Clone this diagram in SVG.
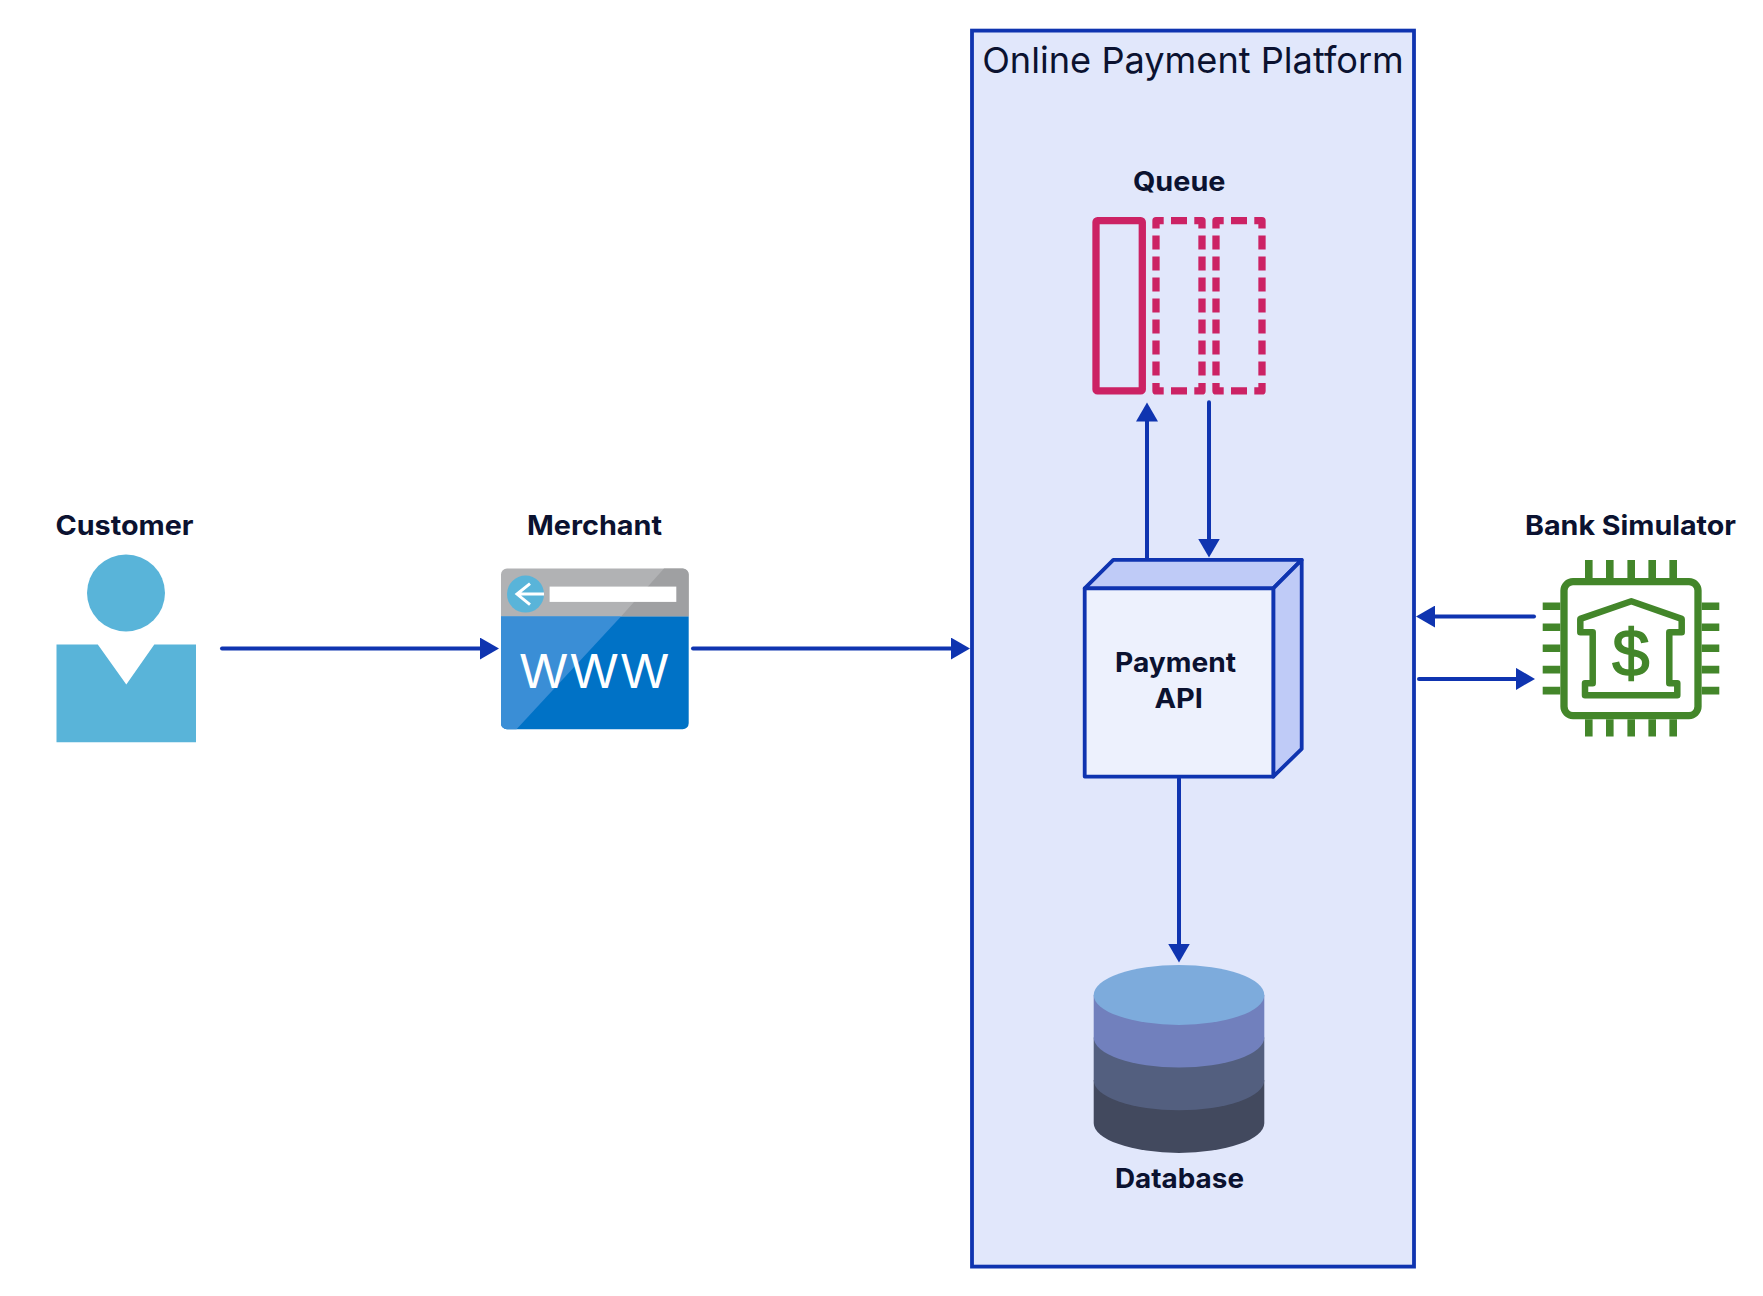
<svg xmlns="http://www.w3.org/2000/svg" width="1763" height="1296" viewBox="0 0 1763 1296">
<style>
.lbl{font-family:"Inter","Noto Sans",sans-serif;font-weight:700;font-size:27px;fill:#0b1230}
.ttl{font-family:"Inter","Noto Sans",sans-serif;font-weight:400;font-size:36px;fill:#0b1230}
.edge{fill:none;stroke:#0f34b0;stroke-width:4;stroke-linecap:round;marker-end:url(#arr)}
.pink{fill:none;stroke:#cc2264;stroke-width:7.3;stroke-linejoin:round}
.grn{fill:none;stroke:#43862a;stroke-linejoin:round}
.blu{stroke:#0f34b0;stroke-width:3.8;stroke-linejoin:round}
</style>
<defs>
<marker id="arr" markerUnits="userSpaceOnUse" markerWidth="20" markerHeight="22" refX="1" refY="11" orient="auto"><path d="M0,0L19,11L0,22Z" fill="#0f34b0"/></marker>
<path id="dash" d="M1156,228V220H1163.7M1171,220H1187M1194.3,220H1202V228M1156,235V249M1156,256V270M1156,277V291M1156,298V312M1156,319V333M1156,340V354M1156,361V375M1202,235V249M1202,256V270M1202,277V291M1202,298V312M1202,319V333M1202,340V354M1202,361V375M1156,382.3V390.3H1163.7M1171,390.3H1187M1194.3,390.3H1202V382.3"/>
</defs>
<rect width="1763" height="1296" fill="#fff"/>
<g transform="translate(0,0.6)">
<g id="platform">
<rect x="972" y="30" width="442" height="1236" fill="#e1e7fb" stroke="#0f34b0" stroke-width="3.8"/>
<text class="ttl" x="982.2" y="72.3" textLength="421.6" lengthAdjust="spacingAndGlyphs">Online Payment Platform</text>
</g>
<g id="customer">
<text class="lbl" x="55.5" y="534" textLength="138" lengthAdjust="spacingAndGlyphs">Customer</text>
<ellipse cx="126" cy="592.4" rx="39" ry="38.4" fill="#59b4d9"/>
<path d="M56.5,644H97.8L126.3,684L154.3,644H196V741.7H56.5Z" fill="#59b4d9"/>
</g>
<g id="merchant">
<text class="lbl" x="527" y="534" textLength="135" lengthAdjust="spacingAndGlyphs">Merchant</text>
<path d="M501,616V574a6,6 0 0 1 6,-6H682.7a6,6 0 0 1 6,6V616Z" fill="#b1b2b4"/>
<path d="M664,568H682.7a6,6 0 0 1 6,6V616H621Z" fill="#9fa0a2"/>
<path d="M501,616H688.7V722.7a6,6 0 0 1 -6,6H507a6,6 0 0 1 -6,-6Z" fill="#0072c6"/>
<path d="M501,616H621L516.5,728.7H507a6,6 0 0 1 -6,-6Z" fill="#3a8ed6"/>
<circle cx="525.5" cy="593.5" r="18.5" fill="#59b4d9"/>
<rect x="549.6" y="586" width="126.7" height="15.3" fill="#fff"/>
<path d="M544,593.5H517M530,583L517,593.5L530,604" fill="none" stroke="#fff" stroke-width="3"/>
<text x="519" y="687" textLength="150.4" lengthAdjust="spacingAndGlyphs" font-family="Inter, sans-serif" font-size="46" fill="#fff">WWW</text>
</g>
<g id="queue">
<text class="lbl" x="1133" y="190.7" textLength="92.5" lengthAdjust="spacingAndGlyphs">Queue</text>
<rect class="pink" x="1096" y="220" width="46.3" height="170.3" rx="1.5"/>
<use href="#dash" class="pink"/>
<use href="#dash" class="pink" x="60"/>
</g>
<g id="payment-api">
<path class="blu" d="M1084.7,587.7L1113.3,559.3H1301.7L1273.3,587.7Z" fill="#bfcbf7"/>
<path class="blu" d="M1273.3,587.7L1301.7,559.3V748.3L1273.3,776Z" fill="#bfcbf7"/>
<rect class="blu" x="1084.7" y="587.7" width="188.6" height="188.3" fill="#edf1fd"/>
<text class="lbl" x="1115" y="671" textLength="121" lengthAdjust="spacingAndGlyphs">Payment</text>
<text class="lbl" x="1154.5" y="707" textLength="48.5" lengthAdjust="spacingAndGlyphs">API</text>
</g>
<g id="database">
<path d="M1093.7,1122.3V1079.7H1264.3V1122.3A85.3,30 0 0 1 1093.7,1122.3Z" fill="#42495e"/>
<path d="M1093.7,1079.7V1037H1264.3V1079.7A85.3,30 0 0 1 1093.7,1079.7Z" fill="#535f7f"/>
<path d="M1093.7,1037V994.3H1264.3V1037A85.3,30 0 0 1 1093.7,1037Z" fill="#7180bd"/>
<ellipse cx="1179" cy="994.3" rx="85.3" ry="30" fill="#7dabdc"/>
<text class="lbl" x="1115" y="1187.5" textLength="129" lengthAdjust="spacingAndGlyphs">Database</text>
</g>
<g id="bank-simulator">
<text class="lbl" x="1525" y="534" textLength="211" lengthAdjust="spacingAndGlyphs">Bank Simulator</text>
<rect class="grn" x="1564" y="581" width="134" height="134" rx="9" stroke-width="7.3"/>
<path class="grn" stroke-width="7.6" d="M1588.8,559.3V577.3M1609.8,559.3V577.3M1631.2,559.3V577.3M1652.2,559.3V577.3M1673.2,559.3V577.3M1588.8,718.7V736M1609.8,718.7V736M1631.2,718.7V736M1652.2,718.7V736M1673.2,718.7V736M1542.7,605.7H1560.3M1542.7,626.7H1560.3M1542.7,647.7H1560.3M1542.7,669H1560.3M1542.7,690H1560.3M1701.7,605.7H1719.3M1701.7,626.7H1719.3M1701.7,647.7H1719.3M1701.7,669H1719.3M1701.7,690H1719.3"/>
<path class="grn" stroke-width="6.5" d="M1631.3,600.7L1580.3,618.3V631.7H1592.7V682.7H1585V694.7H1677.3V682.7H1669.3V631.7H1681.7V618.3Z"/>
<text x="1631" y="675" text-anchor="middle" font-family="Liberation Sans, sans-serif" font-size="67" fill="#43862a" stroke="#43862a" stroke-width="1.6">$</text>
</g>
<g id="connectors">
<path class="edge" d="M222,648H481"/>
<path class="edge" d="M693,648H952"/>
<path class="edge" d="M1147,557V420"/>
<path class="edge" d="M1209,401.7V539"/>
<path class="edge" d="M1179,778V944"/>
<path class="edge" d="M1534,616H1434"/>
<path class="edge" d="M1419,678.3H1517"/>
</g>
</g>
</svg>
